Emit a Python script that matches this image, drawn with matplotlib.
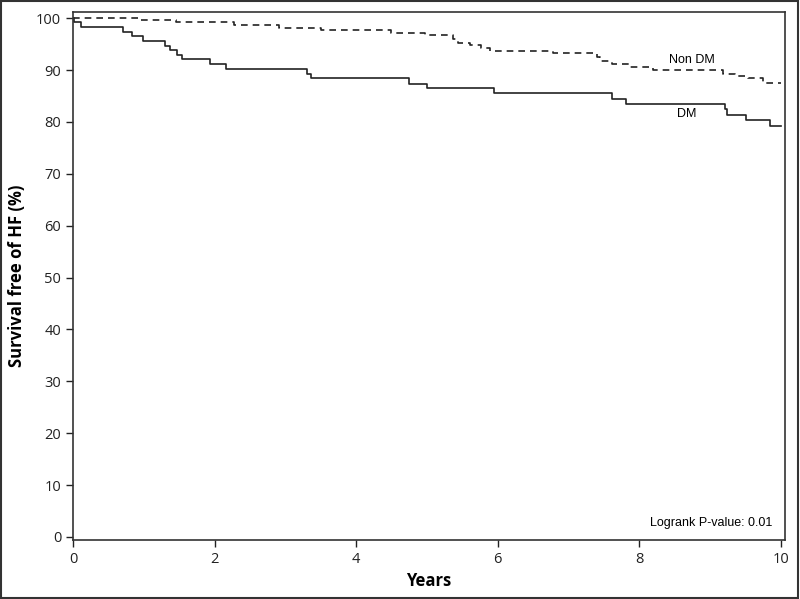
import matplotlib
matplotlib.use('Agg')
import matplotlib.pyplot as plt
from matplotlib.patches import Rectangle

# ========== Data: Kaplan-Meier step points (years, % free of HF) ==========
dm_years = [0, 0.02, 0.12, 0.71, 0.84, 0.99, 1.30, 1.37, 1.47, 1.54, 1.94, 2.16,
            3.31, 3.36, 4.75, 5.00, 5.95, 7.62, 7.81, 9.21, 9.24, 9.51, 9.85, 10.0]
dm_surv = [100, 99.3, 98.3, 97.4, 96.5, 95.6, 94.7, 93.8, 93.0, 92.1, 91.1, 90.3,
           89.3, 88.4, 87.4, 86.5, 85.5, 84.5, 83.5, 82.5, 81.3, 80.3, 79.3, 79.3]

nondm_years = [0, 0.95, 1.45, 2.27, 2.91, 3.50, 4.49, 4.97, 5.37, 5.44, 5.61, 5.77,
               5.89, 6.78, 7.40, 7.44, 7.61, 7.87, 8.20, 9.19, 9.35, 9.54, 9.75, 10.0]
nondm_surv = [100, 99.6, 99.2, 98.7, 98.1, 97.7, 97.2, 96.7, 96.0, 95.3, 94.8, 94.3,
              93.7, 93.2, 92.5, 91.7, 91.1, 90.6, 90.0, 89.3, 88.9, 88.4, 87.6, 87.6]

x_ticks = [0, 2, 4, 6, 8, 10]
y_ticks = list(range(0, 101, 10))

plt.rcParams.update({
    'font.family': 'Open Sans',
    'font.size': 10,
})

fig = plt.figure(figsize=(8.0, 5.99), dpi=100)
ax = fig.add_axes([73 / 800, 1 - 540 / 599, (785 - 73) / 800, (540 - 12) / 599])

ax.step(dm_years, dm_surv, where='post', color='#222222', linewidth=1.2)
ax.step(nondm_years, nondm_surv, where='post', color='#222222', linewidth=1.2,
        linestyle=(0, (4, 3)))

ax.text(8.74, 91.9, 'Non DM', ha='center', va='center', fontsize=9,
        family='Liberation Sans')
ax.text(8.67, 81.6, 'DM', ha='center', va='center', fontsize=9,
        family='Liberation Sans')
ax.text(9.88, 2.6, 'Logrank P-value: 0.01', ha='right', va='center', fontsize=9,
        family='Liberation Sans')

ax.set_xlim(0, 10.06)
ax.set_ylim(-0.6, 101.2)
ax.set_xticks(x_ticks)
ax.set_yticks(y_ticks)
ax.tick_params(direction='out', length=5, width=1, labelsize=10.5, colors='#222222')
for s in ax.spines.values():
    s.set_linewidth(1.2)
    s.set_color('#333333')

ax.set_xlabel('Years', fontweight='bold', fontsize=12, labelpad=4)
ax.set_ylabel('Survival free of HF (%)', fontweight='bold', fontsize=12, labelpad=7)

# outer frame around the whole figure
fig.patches.append(Rectangle((0.001, 0.001), 0.997, 0.997, transform=fig.transFigure,
                             fill=False, edgecolor='#333333', linewidth=1.5))

fig.savefig('out.png', dpi=100)
